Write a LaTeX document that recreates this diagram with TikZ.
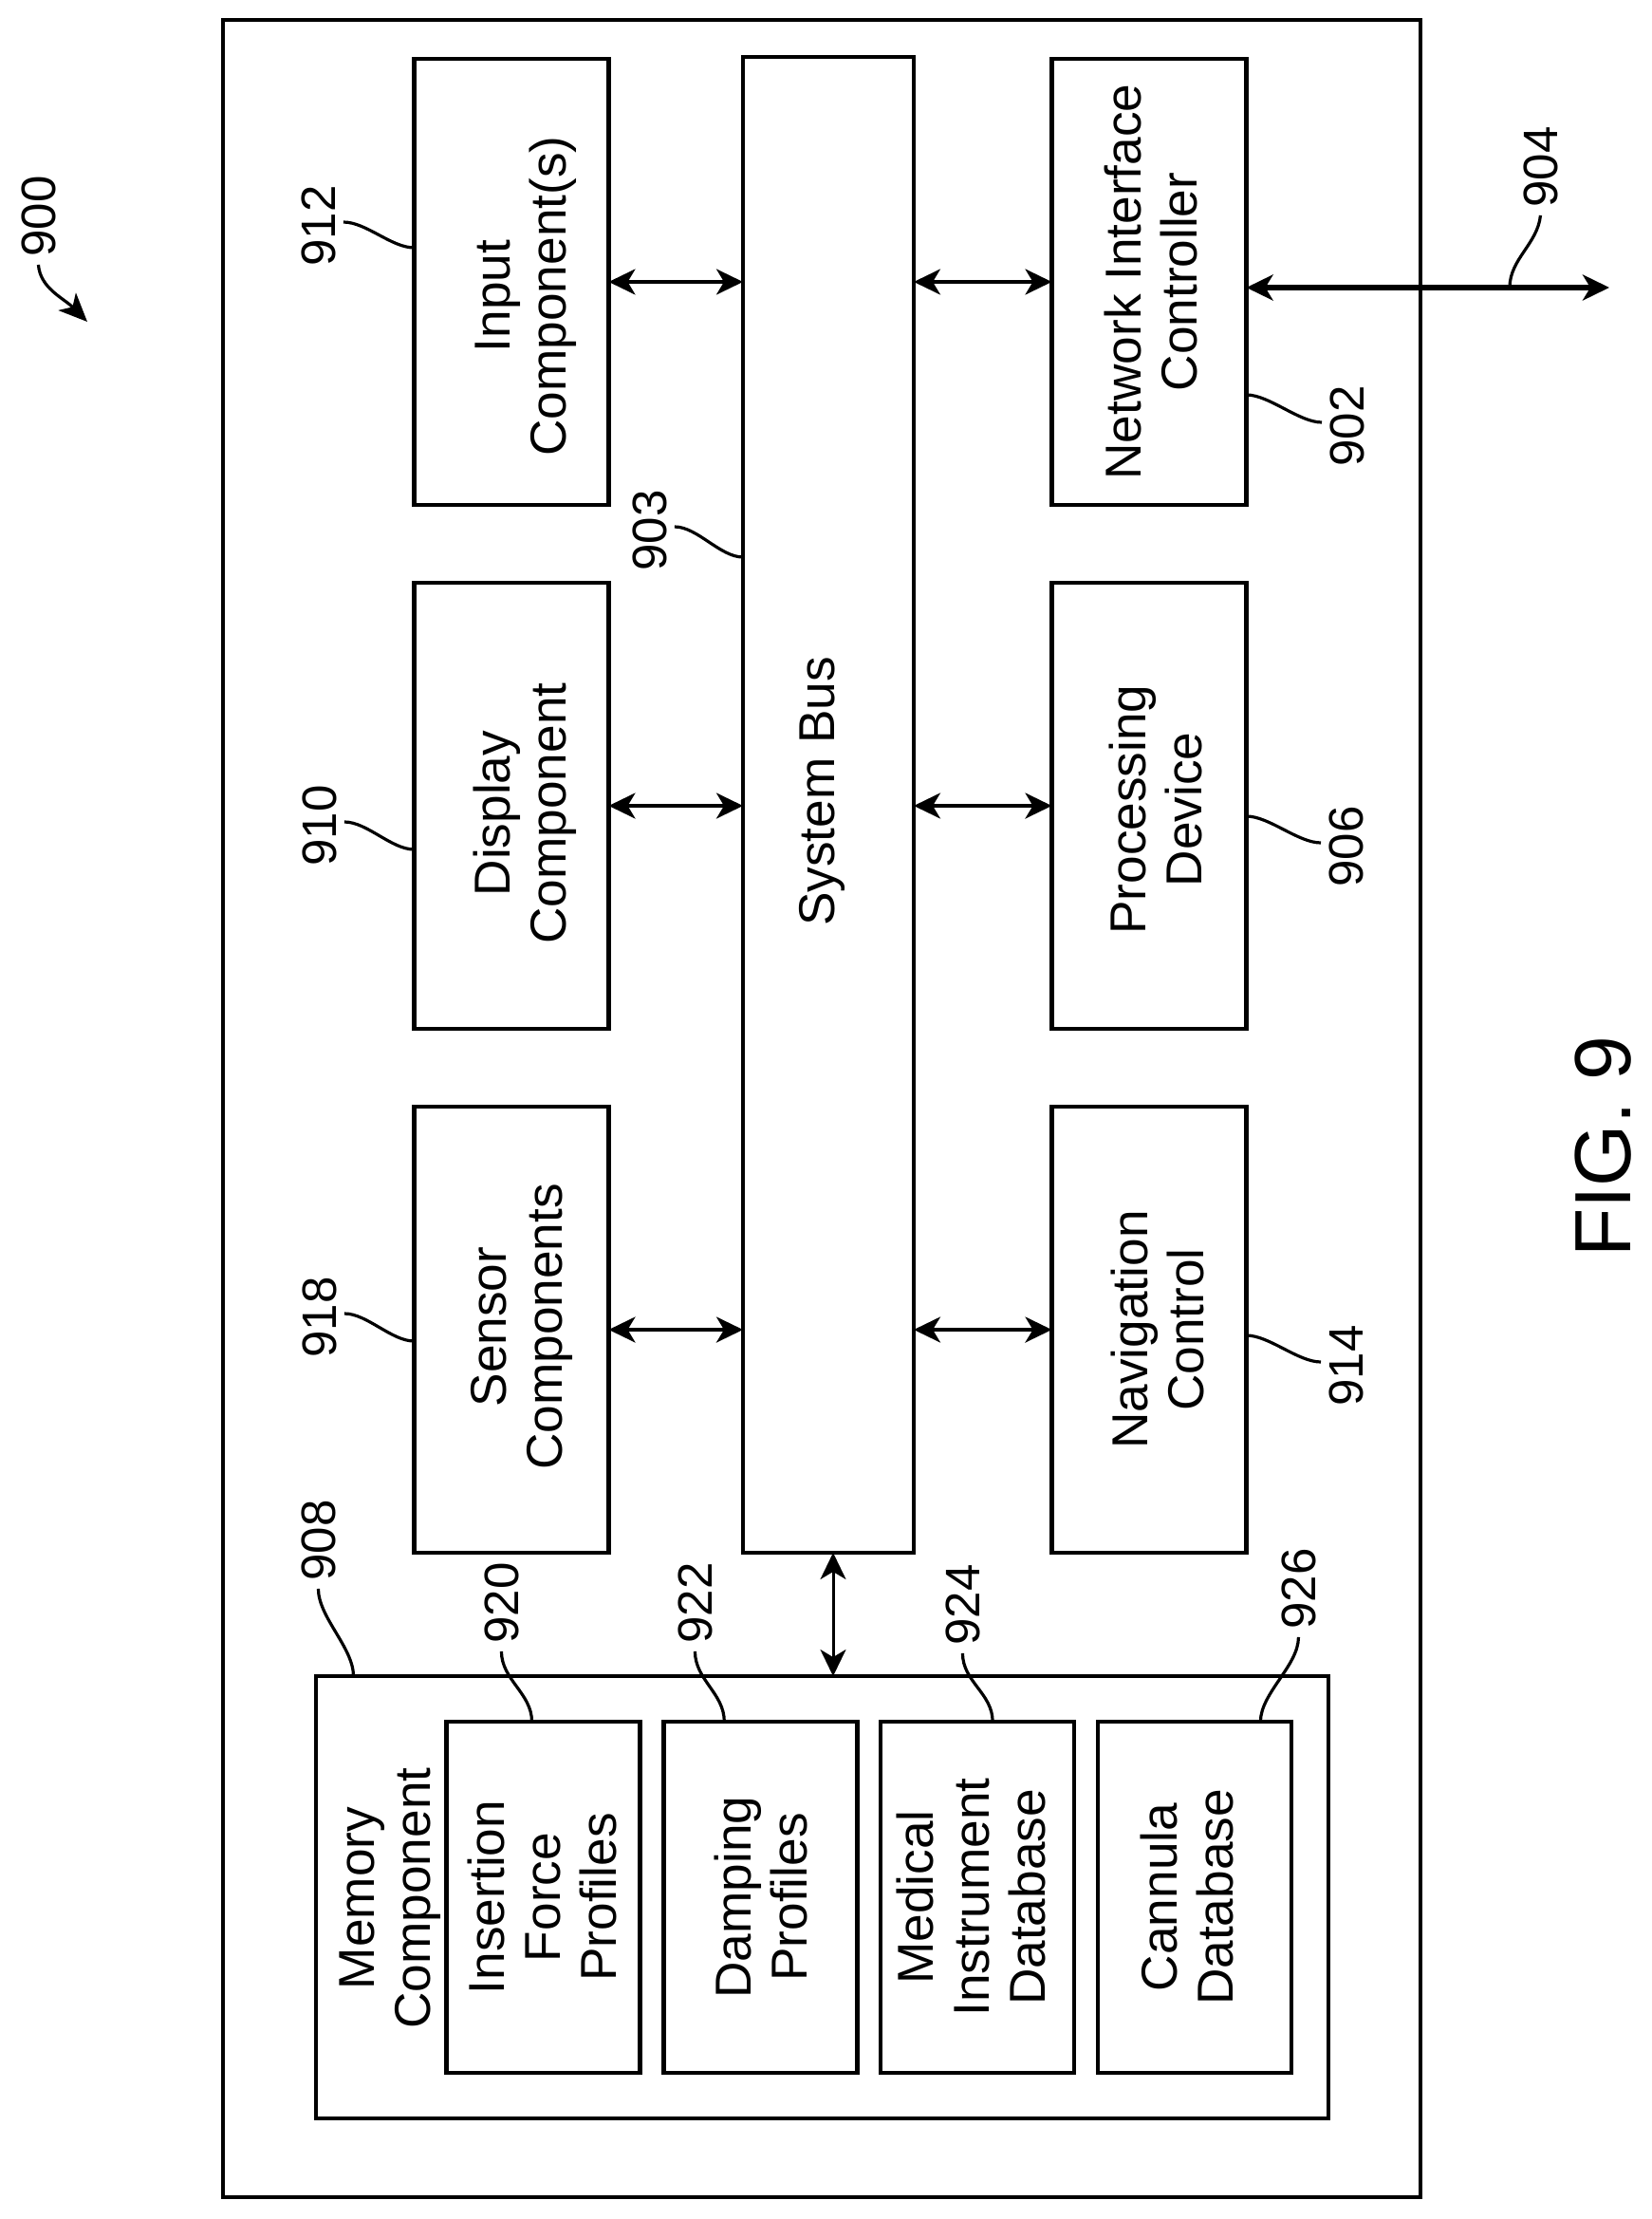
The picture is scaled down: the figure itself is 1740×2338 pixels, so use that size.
\documentclass[tikz,border=0pt]{standalone}
\usepackage{fontspec}
\setmainfont{Liberation Sans}
\usetikzlibrary{
	arrows.meta,
	positioning,
}

\begin{document}
\begin{tikzpicture}[
		x=0.5pt, y=-0.5pt,
		line join=miter,
		node distance = 41pt and 12.4pt,
		box/.style = {rectangle, draw, line width=2.2pt, outer sep=0pt, inner sep=0pt,
			minimum width=102.5pt, minimum height=235pt},
		subbox/.style = {box, minimum width=102pt, minimum height=185pt},
		boxtext/.style = {rotate=90, anchor=base, align=center, inner sep=4pt,
			font=\fontsize{26.6pt}{29.5pt}\selectfont},
		reflabel/.style = {rotate=90, anchor=base, inner sep=4pt,
			font=\fontsize{25.5pt}{29pt}\selectfont},
		leader/.style = {line width=1.6pt},
		biarrow/.style = {line width=1.8pt,
			{Stealth[length=14pt, width=13.5pt, inset=4pt]}-{Stealth[length=14pt, width=13.5pt, inset=4pt]}},
	]
	\useasboundingbox (0,0) rectangle (1740,2338);

	\node[box, minimum width=631pt, minimum height=1147pt] (frame) at (866,1168) {};

	% left and right columns
	\node[box] (input) at (539,297) {};
	\node[box, below=of input] (display) {};
	\node[box, below=of display] (sensor) {};
	\node[box] (nic) at (1211,297) {};
	\node[box, below=of nic] (processing) {};
	\node[box, below=of processing] (navigation) {};
	\node[box, minimum width=90pt, minimum height=788pt] (bus) at (873,848) {};

	% memory
	\node[box, minimum width=533.5pt, minimum height=233pt] (memory) at (866.5,1999) {};
	\node[subbox] (profiles) at (572.5,1999) {};
	\node[subbox, right=of profiles] (damping) {};
	\node[subbox, right=of damping] (instrument) {};
	\node[subbox, right=of instrument] (cannula) {};

	\foreach \name/\xb/\yc/\txt in {
		input/596/312/{Input\\Component(s)},
		display/596/857/{Display\\Component},
		sensor/592/1398/{Sensor\\Components},
		nic/1261/297/{Network Interface\\Controller},
		processing/1266/853/{Processing\\Device},
		navigation/1268/1401/{Navigation\\Control},
		bus/879/834/{System Bus},
		memory/453/2000/{Memory\\Component},
		profiles/649/1999/{Insertion\\Force\\Profiles},
		damping/850/1999/{Damping\\Profiles},
		instrument/1101/1999/{Medical\\Instrument\\Database},
		cannula/1299/1999/{Cannula\\Database}}
		\node[boxtext] (\name-text) at (\xb,\yc) {\txt};

	\foreach \num/\xb/\yc in {900/58/228, 912/353/238, 903/702/559, 910/354/870, 918/354/1388,
		908/353/1623, 920/546/1689, 922/750/1689, 924/1032/1691, 926/1386/1674,
		906/1436/892, 914/1436/1439, 902/1437/449, 904/1641/176}
		\node[reflabel] (l\num) at (\xb,\yc) {\num};
	\node[rotate=90, anchor=base, font=\fontsize{42pt}{46pt}\selectfont] (figlabel) at (1718,1208) {FIG. 9};

	% arrows to the bus
	\foreach \a in {input, display, sensor}
		\draw[biarrow] (\a.east) -- (\a.east -| bus.west);
	\foreach \a in {nic, processing, navigation}
		\draw[biarrow] (\a.west) -- (\a.west -| bus.east);
	\draw[biarrow, line width=1.5pt] ([xshift=2.5pt]bus.south) -- ([xshift=2.5pt]bus.south |- memory.north);

	\coordinate (netout) at (1696,303);
	\draw[biarrow, line width=3pt] ([yshift=-3pt]nic.east) -- (netout);

	% leaders
	\foreach \num/\b/\off in {912/input/18, 910/display/-23, 918/sensor/-6, 903/bus/130.5}
		\draw[leader] ([yshift=2pt]l\num.south) .. controls +(24,0) and +(-24,0) .. ([yshift=\off pt]\b.west);
	\foreach \num/\b/\off in {906/processing/-5.5, 914/navigation/-3, 902/nic/-59.5}
		\draw[leader] ([yshift=\off pt]\b.east) .. controls +(24,0) and +(-24,0) .. ([yshift=2pt]l\num.north);
	\foreach \num/\b/\off in {908/memory/-247, 920/profiles/-6, 922/damping/-19, 924/instrument/8, 926/cannula/34.75}
		\draw[leader] (l\num.west) .. controls +(0,30) and +(0,-30) .. ([xshift=\off pt]\b.north);
	\draw[leader] (l904.west) .. controls +(-3,30) and +(0,-30) .. ([xshift=-52.5pt]netout);

	\coordinate (pointer) at (92,339);
	\draw[leader, -{Stealth[length=15pt, width=13pt, inset=4pt]}] (l900.west) .. controls +(2,25) and +(-25,-25) .. (pointer);
\end{tikzpicture}
\end{document}
